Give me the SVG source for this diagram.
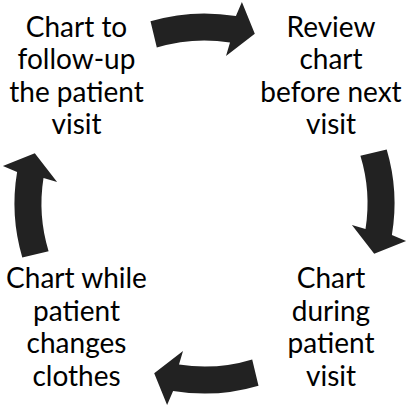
<svg xmlns="http://www.w3.org/2000/svg" width="409" height="407" viewBox="0 0 409 407">
<defs>
<style>
.lbl{font-family:Lato,"Open Sans","Liberation Sans",sans-serif;font-size:28px;fill:#000;text-anchor:middle}
.arr{fill:#222}
</style>
<path id="arrowShape" class="arr" d="M 150.5 21.3 A 190 190 0 0 1 235.9 16.1 L 241.9 1.9 L 254.8 33.8 L 226.0 56.1 L 230.0 42.5 A 163 163 0 0 0 156.8 47.6 Z"/>
</defs>
<rect width="409" height="407" fill="#fff"/>
<g id="connectors">
<use href="#arrowShape"/>
<use href="#arrowShape" transform="rotate(90 204.5 203.5)"/>
<use href="#arrowShape" transform="rotate(180 204.5 203.5)"/>
<use href="#arrowShape" transform="rotate(270 204.5 203.5)"/>
</g>
<g id="node-followup">
<text class="lbl" x="76.5" y="36.5">Chart to</text>
<text class="lbl" x="76.5" y="69">follow-up</text>
<text class="lbl" x="76.5" y="101.5">the patient</text>
<text class="lbl" x="76.5" y="134">visit</text>
</g>
<g id="node-review">
<text class="lbl" x="331" y="36.5">Review</text>
<text class="lbl" x="331" y="69">chart</text>
<text class="lbl" x="331" y="101.5">before next</text>
<text class="lbl" x="331" y="134">visit</text>
</g>
<g id="node-during">
<text class="lbl" x="331" y="288">Chart</text>
<text class="lbl" x="331" y="320.5">during</text>
<text class="lbl" x="331" y="353">patient</text>
<text class="lbl" x="331" y="385.5">visit</text>
</g>
<g id="node-changes">
<text class="lbl" x="76.5" y="288">Chart while</text>
<text class="lbl" x="76.5" y="320.5">patient</text>
<text class="lbl" x="76.5" y="353">changes</text>
<text class="lbl" x="76.5" y="385.5">clothes</text>
</g>
</svg>
